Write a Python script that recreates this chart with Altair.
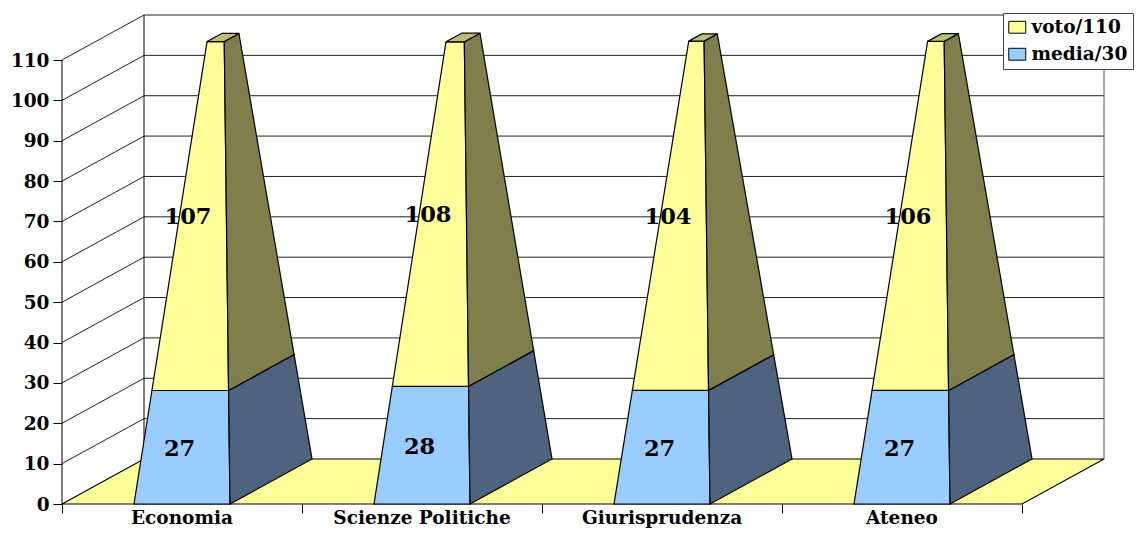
import altair as alt
import pandas as pd

categories = ["Economia", "Scienze Politiche", "Giurisprudenza", "Ateneo"]
media = [27, 28, 27, 27]
voto = [107, 108, 104, 106]
ticks = list(range(0, 111, 10))
AXIS_MAX = 110

# oblique projection of the 3-D chart box: depth 1 moves right and up
DX = 82 / 240
DY = 45 / 4.036
FONT = "DejaVu Serif"
YELLOW, BLUE = "#FFFF99", "#99CCFF"


def proj(x, d, v):
    return (x + DX * d, v + DY * d)


def bands(poly, name):
    ys = sorted({round(p[1], 6) for p in poly})
    rows = []
    n = len(poly)
    for y in ys:
        xs = []
        for i in range(n):
            (x1, y1), (x2, y2) = poly[i], poly[(i + 1) % n]
            if abs(y1 - y2) < 1e-6:
                if abs(y1 - y) < 1e-5:
                    xs += [x1, x2]
            elif min(y1, y2) - 1e-5 <= y <= max(y1, y2) + 1e-5:
                xs.append(x1 + (y - y1) * (x2 - x1) / (y2 - y1))
        rows.append({"poly": name, "y": y, "x0": min(xs), "x1": max(xs)})
    return rows


def corner(i, apex, v, sx, sd):
    s = 1 - v / apex
    return proj(i + 0.5 + sx * 0.2 * s, 0.5 + sd * 0.5 * s, v)


front_rows, side_voto, side_media, top_rows = [], [], [], []
for i, (m, t) in enumerate(zip(media, voto)):
    apex = m + t
    front_rows += [dict(r, series="media/30") for r in bands(
        [corner(i, apex, 0, -1, -1), corner(i, apex, 0, 1, -1),
         corner(i, apex, m, 1, -1), corner(i, apex, m, -1, -1)], f"m{i}")]
    front_rows += [dict(r, series="voto/110") for r in bands(
        [corner(i, apex, m, -1, -1), corner(i, apex, m, 1, -1),
         corner(i, apex, AXIS_MAX, 1, -1), corner(i, apex, AXIS_MAX, -1, -1)], f"v{i}")]
    side_media += bands(
        [corner(i, apex, 0, 1, -1), corner(i, apex, 0, 1, 1),
         corner(i, apex, m, 1, 1), corner(i, apex, m, 1, -1)], f"sm{i}")
    side_voto += bands(
        [corner(i, apex, m, 1, -1), corner(i, apex, m, 1, 1),
         corner(i, apex, AXIS_MAX, 1, 1), corner(i, apex, AXIS_MAX, 1, -1)], f"sv{i}")
    top_rows += bands(
        [corner(i, apex, AXIS_MAX, -1, -1), corner(i, apex, AXIS_MAX, 1, -1),
         corner(i, apex, AXIS_MAX, 1, 1), corner(i, apex, AXIS_MAX, -1, 1)], f"t{i}")

floor_rows = bands([proj(0, 0, 0), proj(4, 0, 0), proj(4, 1, 0), proj(0, 1, 0)], "floor")

grid_rows = []
for v in ticks[1:]:
    grid_rows.append(dict(x=proj(0, 0, v)[0], x2=proj(0, 1, v)[0],
                          y=proj(0, 0, v)[1], y2=proj(0, 1, v)[1]))
    grid_rows.append(dict(x=proj(0, 1, v)[0], x2=proj(4, 1, v)[0],
                          y=proj(0, 1, v)[1], y2=proj(4, 1, v)[1]))
left_edge = [dict(x=0, x2=0, y=0, y2=AXIS_MAX)]
back_left = [dict(x=DX, x2=DX, y=DY, y2=AXIS_MAX + DY)]
back_right = [dict(x=4 + DX, x2=4 + DX, y=DY, y2=AXIS_MAX + DY)]

label_rows = []
for i, (m, t) in enumerate(zip(media, voto)):
    label_rows.append(dict(x=i + 0.5 + 0.025, y=(m + AXIS_MAX) / 2 + 2.8, t=str(t)))
    label_rows.append(dict(x=i + 0.5 - 0.01, y=m / 2 + 0.4, t=str(m)))
cat_rows = [dict(x=i + 0.5, y=0, t=c) for i, c in enumerate(categories)]

xs = alt.Scale(domain=[0, 4 + DX], nice=False, zero=False)
ys = alt.Scale(domain=[0, AXIS_MAX + DY], nice=False, zero=False)
x_axis = alt.Axis(values=[0, 1, 2, 3, 4], labels=False, domain=False, grid=False,
                  tickSize=9, tickColor="black", title=None)
y_axis = alt.Axis(values=ticks, domain=False, grid=False, tickSize=9, tickColor="black",
                  labelFont=FONT, labelFontWeight="bold", labelFontSize=18.5, labelColor="black",
                  labelPadding=4, title=None)
X = alt.X("x:Q", scale=xs, axis=x_axis, title=None)
X0 = alt.X("x0:Q", scale=xs, axis=x_axis, title=None)
Y = alt.Y("y:Q", scale=ys, axis=y_axis, title=None)


def rules(rows, color="#222222", width=1):
    return alt.Chart(pd.DataFrame(rows)).mark_rule(color=color, strokeWidth=width).encode(
        x=X, x2="x2:Q", y=Y, y2="y2:Q")


def area(rows, fill):
    return alt.Chart(pd.DataFrame(rows)).mark_area(
        orient="horizontal", color=fill, stroke="black", strokeWidth=1.2, opacity=1
    ).encode(x=X0, x2="x1:Q", y=Y, detail="poly:N")


front = alt.Chart(pd.DataFrame(front_rows)).mark_area(
    orient="horizontal", stroke="black", strokeWidth=1.2, opacity=1
).encode(
    x=X0, x2="x1:Q", y=Y, detail="poly:N",
    color=alt.Color("series:N", scale=alt.Scale(domain=["voto/110", "media/30"], range=[YELLOW, BLUE]),
                    legend=alt.Legend(
                        title=None, orient="none", legendX=941, legendY=-2,
                        fillColor="white", strokeColor="#444444", padding=5,
                        symbolType="M-1,-0.7H1V0.7H-1Z", symbolSize=289,
                        symbolStrokeColor="black", symbolStrokeWidth=1, symbolOpacity=1,
                        labelFont=FONT, labelFontWeight="bold", labelFontSize=18.5,
                        labelColor="black", rowPadding=8, labelLimit=200, labelOffset=5)),
)

data_text = alt.Chart(pd.DataFrame(label_rows)).mark_text(
    font=FONT, fontWeight="bold", fontSize=22.5, color="black", dy=1
).encode(x=X, y=Y, text="t:N")

cat_text = alt.Chart(pd.DataFrame(cat_rows)).mark_text(
    font=FONT, fontWeight="bold", fontSize=18.5, color="black", baseline="alphabetic", dy=20
).encode(x=X, y=Y, text="t:N")

chart = alt.layer(
    rules(grid_rows),
    rules(left_edge, "black"),
    rules(back_left, "black"),
    rules(back_right, "#555555"),
    area(floor_rows, YELLOW),
    front,
    area(side_media, "#4F637F"),
    area(side_voto, "#7F7F4C"),
    area(top_rows, "#BFBF73"),
    data_text,
    cat_text,
).properties(
    width=1042, height=489,
    autosize="none",
    padding={"left": 54, "top": 7, "right": 31, "bottom": 25},
).configure_view(stroke=None)

chart.save("out.html", embed_options={"renderer": "svg", "actions": False})
